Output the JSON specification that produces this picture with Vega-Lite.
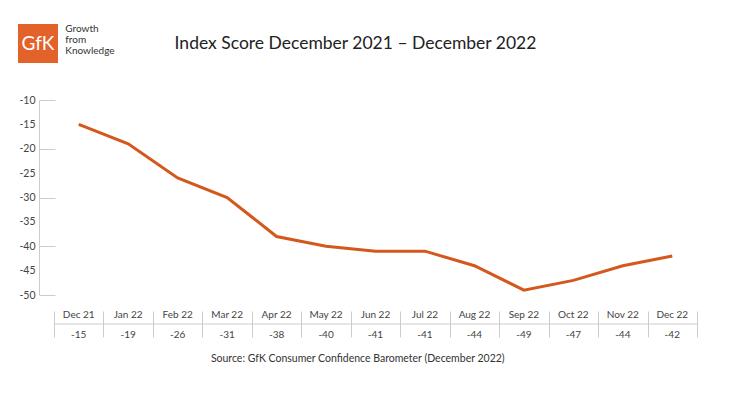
{
  "$schema": "https://vega.github.io/schema/vega-lite/v6.json",
  "background": "white",
  "padding": {"left": 18, "top": 24, "right": 0, "bottom": 0},
  "config": {"font": "Lato", "view": {"stroke": null}},
  "datasets": {
    "scores": [
      {"month": "Dec 21", "line": -15, "table": "-15"},
      {"month": "Jan 22", "line": -19, "table": "-19"},
      {"month": "Feb 22", "line": -26, "table": "-26"},
      {"month": "Mar 22", "line": -30, "table": "-31"},
      {"month": "Apr 22", "line": -38, "table": "-38"},
      {"month": "May 22", "line": -40, "table": "-40"},
      {"month": "Jun 22", "line": -41, "table": "-41"},
      {"month": "Jul 22", "line": -41, "table": "-41"},
      {"month": "Aug 22", "line": -44, "table": "-44"},
      {"month": "Sep 22", "line": -49, "table": "-49"},
      {"month": "Oct 22", "line": -47, "table": "-47"},
      {"month": "Nov 22", "line": -44, "table": "-44"},
      {"month": "Dec 22", "line": -42, "table": "-42"}
    ]
  },
  "concat": [
    {
      "hconcat": [
        {
          "width": 40,
          "height": 39,
          "view": {"fill": "#E3622A", "stroke": null},
          "data": {"values": [{"brand": "GfK"}]},
          "mark": {"type": "text", "color": "white", "fontSize": 19},
          "encoding": {"text": {"field": "brand"}},
          "title": {
            "text": ["Growth", "from", "Knowledge"],
            "orient": "right",
            "angle": 0,
            "anchor": "start",
            "align": "left",
            "baseline": "top",
            "fontSize": 10,
            "lineHeight": 11,
            "fontWeight": "normal",
            "color": "#333333",
            "offset": -42
          }
        },
        {
          "width": 441,
          "height": 39,
          "data": {"values": [{"t": "Index Score December 2021 – December 2022"}]},
          "mark": {"type": "text", "fontSize": 17.5, "color": "#222222"},
          "encoding": {"text": {"field": "t"}}
        }
      ],
      "spacing": 20,
      "bounds": "full"
    },
    {
      "title": {
        "text": "Source: GfK Consumer Confidence Barometer (December 2022)",
        "orient": "bottom",
        "anchor": "middle",
        "frame": "bounds",
        "fontSize": 10.5,
        "fontWeight": "normal",
        "color": "#333333",
        "offset": 14
      },
      "vconcat": [
        {
          "width": 679,
          "height": 195,
          "data": {"name": "scores"},
          "mark": {"type": "line", "color": "#D4581C", "strokeWidth": 3},
          "encoding": {
            "x": {
              "field": "month",
              "type": "ordinal",
              "sort": null,
              "bandPosition": 0.5,
              "scale": {"type": "band", "paddingInner": 0, "paddingOuter": 0.364, "align": 1},
              "axis": null
            },
            "y": {
              "field": "line",
              "type": "quantitative",
              "scale": {"domain": [-50, -10], "nice": false, "zero": false},
              "axis": {
                "values": [-10, -15, -20, -25, -30, -35, -40, -45, -50],
                "labelExpr": "replace(datum.label, '\u2212', '-')",
                "title": null,
                "grid": false,
                "offset": -21,
                "domainColor": "#cccccc",
                "tickColor": "#cccccc",
                "tickSize": -16,
                "tickOpacity": {"condition": {"test": "datum.value % 10 === 0", "value": 1}, "value": 0},
                "labelPadding": 20,
                "labelColor": "#444444",
                "labelFontSize": 10.5
              }
            }
          }
        },
        {
          "width": 679,
          "height": 26,
          "data": {"name": "scores"},
          "encoding": {
            "x": {
              "field": "month",
              "type": "ordinal",
              "sort": null,
              "scale": {"type": "band", "paddingInner": 0, "paddingOuter": 0.364, "align": 1},
              "axis": {"orient": "bottom", "labels": false, "ticks": false, "domain": false, "grid": true, "tickBand": "extent", "gridColor": "#cccccc", "title": null}
            }
          },
          "layer": [
            {
              "mark": {"type": "rect", "fill": null, "stroke": "#dddddd", "strokeWidth": 1},
              "encoding": {
                "y": {"datum": 13, "type": "quantitative", "scale": {"domain": [0, 26], "reverse": true, "nice": false, "zero": false}, "axis": null},
                "y2": {"datum": 13}
              }
            },
            {
              "mark": {"type": "text", "fontSize": 10, "color": "#444444"},
              "encoding": {
                "y": {"datum": 4, "type": "quantitative"},
                "text": {"field": "month"}
              }
            },
            {
              "mark": {"type": "text", "fontSize": 10, "color": "#444444"},
              "encoding": {
                "y": {"datum": 24, "type": "quantitative"},
                "text": {"field": "table"}
              }
            }
          ]
        }
      ],
      "spacing": 16,
      "bounds": "flush"
    }
  ],
  "columns": 1,
  "align": "none",
  "spacing": 32
}
